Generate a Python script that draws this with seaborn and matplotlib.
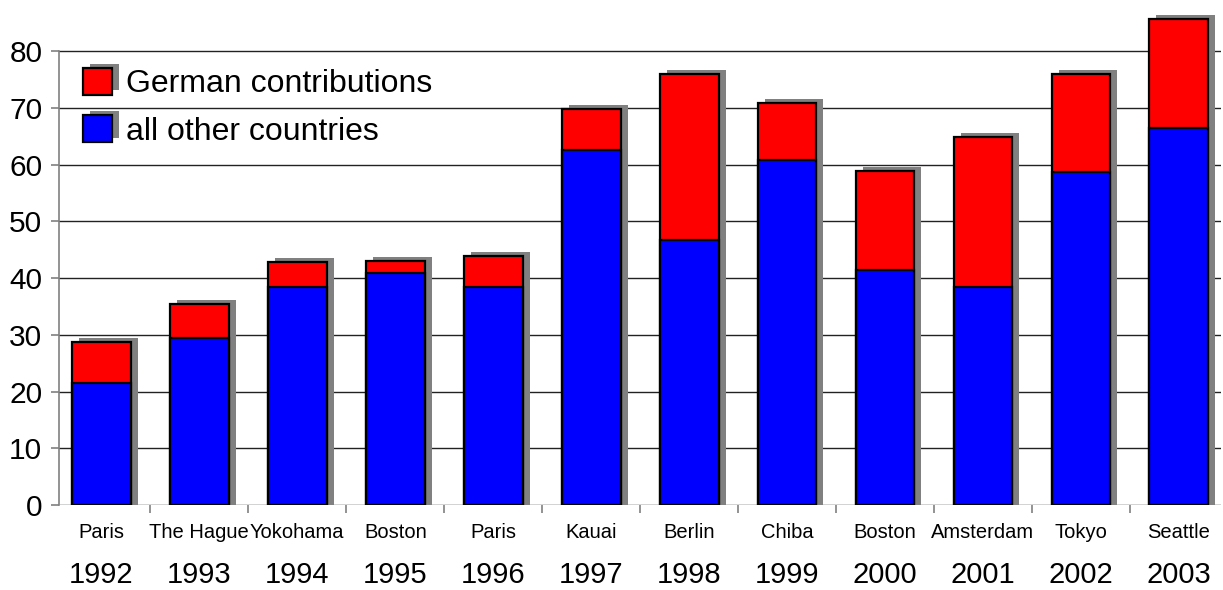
import seaborn as sns
import matplotlib.pyplot as plt
import matplotlib.patheffects as pe
from matplotlib.patches import Patch
from matplotlib.transforms import ScaledTranslation
import pandas as pd

# data
years = ['1992', '1993', '1994', '1995', '1996', '1997', '1998', '1999', '2000', '2001', '2002', '2003']
cities = ['Paris', 'The Hague', 'Yokohama', 'Boston', 'Paris', 'Kauai', 'Berlin', 'Chiba',
          'Boston', 'Amsterdam', 'Tokyo', 'Seattle']
other_countries = [21.5, 29.5, 38.5, 40.8, 38.5, 62.5, 46.7, 60.8, 41.5, 38.5, 58.7, 66.5]
german = [7.3, 6.0, 4.4, 2.2, 5.3, 7.3, 29.3, 10.0, 17.3, 26.3, 17.2, 19.1]

df = pd.DataFrame({'year': years, 'city': cities,
                   'other': other_countries, 'german': german})
df['total'] = df['other'] + df['german']

sns.set_style('white')
plt.rcParams['font.family'] = ['Liberation Sans', 'DejaVu Sans']
plt.rcParams['text.color'] = 'black'

fig = plt.figure(figsize=(12.23, 5.9), dpi=100)
ax = fig.add_axes([59 / 1223, 85 / 590, (1221 - 59) / 1223, 505 / 590])

# shadow bars (grey, shifted right/up)
sns.barplot(data=df, x='year', y='total', color='#808080', width=0.6,
            saturation=1, linewidth=0, ax=ax)
shift = ScaledTranslation(7 / 100, 4 / 100, fig.dpi_scale_trans)
for p in ax.patches:
    p.set_transform(ax.transData + shift)
    p.set_y(-0.8)
    p.set_height(p.get_height() + 0.8)

# red (total) then blue (other countries) on top
sns.barplot(data=df, x='year', y='total', color='#ff0000', width=0.6,
            saturation=1, edgecolor='black', linewidth=1.6, ax=ax)
sns.barplot(data=df, x='year', y='other', color='#0000ff', width=0.6,
            saturation=1, edgecolor='black', linewidth=1.6, ax=ax)

ax.set_xlim(-0.433, 11.43)
ax.set_ylim(0, 89)
ax.set_yticks(range(0, 81, 10))
ax.yaxis.grid(True, color='#222222', linewidth=1)
ax.set_axisbelow(True)
for s in ['top', 'right', 'bottom']:
    ax.spines[s].set_visible(False)
ax.spines['left'].set_color('#808080')
ax.spines['left'].set_linewidth(1.2)
ax.spines['left'].set_bounds(0, 80)
ax.tick_params(axis='y', left=True, length=6, width=1.2, color='#808080',
               labelsize=21.5, labelcolor='black', pad=6)
ax.set_xlabel('')
ax.set_ylabel('')

# city names as tick labels, boundary ticks as minor ticks
ax.set_xticks(range(len(years)))
ax.set_xticklabels(cities, fontsize=14.5)
ax.tick_params(axis='x', length=0, pad=13, labelcolor='black')
ax.set_xticks([i + 0.5 for i in range(len(years) - 1)], minor=True)
ax.tick_params(axis='x', which='minor', bottom=True, length=6, width=1.2, color='#808080')

# years on a second row
sec = ax.secondary_xaxis('bottom')
sec.set_xticks(range(len(years)))
sec.set_xticklabels(years, fontsize=21)
sec.tick_params(length=0, pad=40, labelcolor='black')
sec.spines['bottom'].set_visible(False)

# legend with shadowed squares
shadow = [pe.SimplePatchShadow(offset=(5, 3), shadow_rgbFace='#808080', alpha=1), pe.Normal()]
handles = [Patch(facecolor='#ff0000', edgecolor='black', linewidth=1.6, path_effects=shadow),
           Patch(facecolor='#0000ff', edgecolor='black', linewidth=1.6, path_effects=shadow)]
ax.legend(handles, ['German contributions', 'all other countries'], loc='upper left',
          bbox_to_anchor=(83 / 1223, 1 - 68 / 590), bbox_transform=fig.transFigure,
          frameon=False, fontsize=23, handlelength=0.9, handleheight=0.9,
          handletextpad=0.45, labelspacing=0.5, borderpad=0, borderaxespad=0)

fig.savefig('out.png', dpi=100)
